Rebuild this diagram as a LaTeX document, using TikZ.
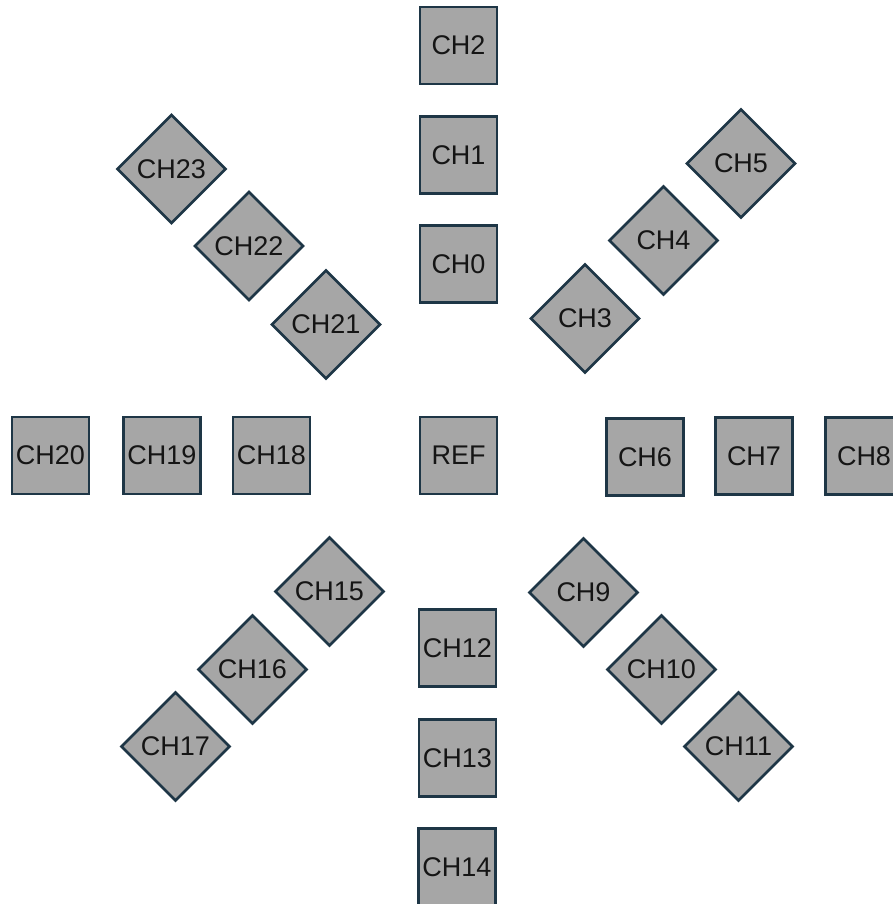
\documentclass[tikz,border=0pt]{standalone}
\usepackage{fontspec}
\setmainfont{Liberation Sans}
\usetikzlibrary{shapes.geometric}
\definecolor{boxfill}{HTML}{A6A6A6}
\definecolor{boxline}{HTML}{1E3646}
\definecolor{txt}{HTML}{151515}
\tikzset{
  chbox/.style={rectangle, draw=boxline, fill=boxfill, line width=2.6pt,
    minimum width=77pt, minimum height=77pt, inner sep=0pt,
    text=txt, font=\fontsize{27}{30}\selectfont},
  chdia/.style={diamond, aspect=1, draw=boxline, fill=boxfill, line width=2.6pt,
    minimum width=109pt, minimum height=109pt, inner sep=0pt,
    text=txt, font=\fontsize{27}{30}\selectfont}
}
\begin{document}
\begin{tikzpicture}[x=1pt,y=-1pt]
\useasboundingbox (0,0) rectangle (893,904);
% vertical column
\node[chbox] (ch2) at (458.5,45.5) {CH2};
\node[chbox] (ch1) at (458.5,155) {CH1};
\node[chbox] (ch0) at (458.5,264) {CH0};
\node[chbox] (ref) at (458.5,455.5) {REF};
\node[chbox] (ch12) at (457.5,648) {CH12};
\node[chbox] (ch13) at (457.5,758) {CH13};
\node[chbox] (ch14) at (457,867) {CH14};
% horizontal row
\node[chbox] (ch6) at (645,457) {CH6};
\node[chbox] (ch7) at (754,456) {CH7};
\node[chbox] (ch8) at (864,456) {CH8};
\node[chbox] (ch18) at (271.5,455.5) {CH18};
\node[chbox] (ch19) at (162,455.5) {CH19};
\node[chbox] (ch20) at (50.5,455.5) {CH20};
% diagonals
\node[chdia] (ch23) at (171.5,169) {CH23};
\node[chdia] (ch22) at (249,246) {CH22};
\node[chdia] (ch21) at (326,324.5) {CH21};
\node[chdia] (ch5) at (741,163.5) {CH5};
\node[chdia] (ch4) at (663.5,240.5) {CH4};
\node[chdia] (ch3) at (585,318.5) {CH3};
\node[chdia] (ch9) at (583.5,592.5) {CH9};
\node[chdia] (ch10) at (661.5,669.5) {CH10};
\node[chdia] (ch11) at (738.5,746.5) {CH11};
\node[chdia] (ch15) at (329.5,591.5) {CH15};
\node[chdia] (ch16) at (252.5,669.5) {CH16};
\node[chdia] (ch17) at (175.5,746.5) {CH17};
\end{tikzpicture}
\end{document}
